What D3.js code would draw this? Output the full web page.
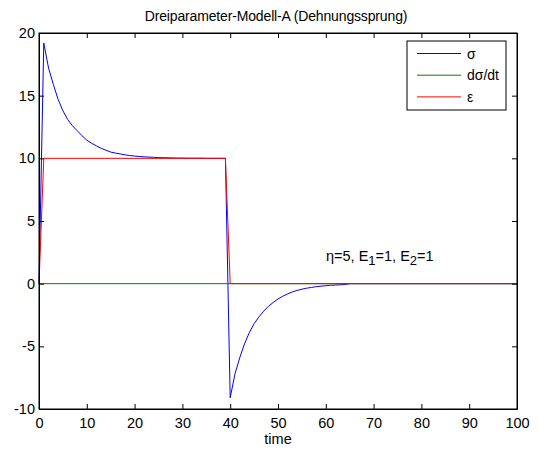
<!DOCTYPE html>
<html>
<head>
<meta charset="utf-8">
<script src="https://cdn.jsdelivr.net/npm/d3@7"></script>
<style>
  body { margin: 0; background: #fff; }
  svg { font-family: "Liberation Sans", Arial, sans-serif; }
</style>
</head>
<body>
<div id="chart"></div>
<script>
const width = 539;
const height = 450;
const margin = {top: 33, right: 22, bottom: 41, left: 39};

// sigma, one point per time unit (0..65), then flat
const sigmaTime = [0,1,2,3,4,5,6,7,8,9,10,11,12,13,14,15,16,17,18,19,20,21,22,23,24,25,26,27,28,29,30,
  31,32,33,34,35,36,37,38,39,40,41,42,43,44,45,46,47,48,49,50,51,52,53,54,55,56,57,58,59,60,
  61,62,63,64,65,100];
const sigmaValues = [0,19.2,17.2,15.9,14.7,13.8,13.1,12.6,12.2,11.8,11.45,11.2,11.0,10.8,10.65,10.5,
  10.42,10.35,10.28,10.22,10.18,10.15,10.12,10.1,10.08,10.06,10.05,10.04,10.03,10.02,10.02,
  10.01,10.01,10.01,10.01,10.0,10.0,10.0,10.0,10.0,-9.1,-7.2,-5.9,-4.8,-3.9,-3.2,-2.65,-2.2,-1.8,-1.5,-1.22,
  -1.0,-0.82,-0.66,-0.54,-0.44,-0.36,-0.3,-0.24,-0.2,-0.16,-0.13,-0.11,-0.09,-0.07,0,0];

const dsigmaTime = [0,100];
const dsigmaValues = [0,0];

const epsTime = [0,1,39,40,100];
const epsValues = [0,10,10,0,0];

const xTicks = [0,10,20,30,40,50,60,70,80,90,100];
const yTicks = [-10,-5,0,5,10,15,20];

const legendLabels = ["σ","dσ/dt","ε"];
const colors = ["#0000ff","#008000","#ff0000"];

const svg = d3.select("#chart").append("svg")
    .attr("width", width)
    .attr("height", height);

const x = d3.scaleLinear().domain([0,100]).range([margin.left, width - margin.right]);
const y = d3.scaleLinear().domain([-10,20]).range([height - margin.bottom, margin.top]);

const series = [
  {t: sigmaTime, v: sigmaValues},
  {t: dsigmaTime, v: dsigmaValues},
  {t: epsTime, v: epsValues}
];

const line = d3.line().x(d => x(d[0])).y(d => y(d[1]));

svg.append("g")
  .selectAll("path")
  .data(series)
  .join("path")
  .attr("fill", "none")
  .attr("stroke", (d,i) => colors[i])
  .attr("stroke-width", 1)
  .attr("d", d => line(d.t.map((t,i) => [t, d.v[i]])));

// axes with inward ticks, box style
const tickLen = 5;
svg.append("g")
  .attr("transform", `translate(0,${height - margin.bottom})`)
  .call(d3.axisBottom(x).tickValues(xTicks).tickSizeInner(-tickLen).tickSizeOuter(0).tickPadding(9))
  .call(g => g.selectAll("text").attr("font-size", 14.5).attr("fill", "#000"));
svg.append("g")
  .attr("transform", `translate(0,${margin.top})`)
  .call(d3.axisTop(x).tickValues(xTicks).tickSizeInner(-tickLen).tickSizeOuter(0).tickFormat(""));
svg.append("g")
  .attr("transform", `translate(${margin.left},0)`)
  .call(d3.axisLeft(y).tickValues(yTicks).tickSizeInner(-tickLen).tickSizeOuter(0).tickPadding(4).tickFormat(d => String(d)))
  .call(g => g.selectAll("text").attr("font-size", 14.5).attr("fill", "#000"));
svg.append("g")
  .attr("transform", `translate(${width - margin.right},0)`)
  .call(d3.axisRight(y).tickValues(yTicks).tickSizeInner(-tickLen).tickSizeOuter(0).tickFormat(""));

svg.selectAll(".domain").attr("stroke", "#000");
svg.selectAll(".tick line").attr("stroke", "#000");

svg.append("rect")
  .attr("x", margin.left)
  .attr("y", margin.top)
  .attr("width", width - margin.left - margin.right)
  .attr("height", height - margin.top - margin.bottom)
  .attr("fill", "none")
  .attr("stroke", "#000");

// title and axis label
svg.append("text")
  .attr("x", 276)
  .attr("y", 21)
  .attr("text-anchor", "middle")
  .attr("font-size", 14)
  .attr("letter-spacing", -0.15)
  .text("Dreiparameter-Modell-A (Dehnungssprung)");

svg.append("text")
  .attr("x", (margin.left + width - margin.right) / 2)
  .attr("y", 444)
  .attr("text-anchor", "middle")
  .attr("font-size", 14.5)
  .text("time");

// annotation
const note = svg.append("text")
  .attr("x", 326)
  .attr("y", 261)
  .attr("font-size", 14.5);
note.append("tspan").text("η=5, E");
note.append("tspan").attr("dy", 4).attr("font-size", 13).text("1");
note.append("tspan").attr("dy", -4).text("=1, E");
note.append("tspan").attr("dy", 4).attr("font-size", 13).text("2");
note.append("tspan").attr("dy", -4).text("=1");

// legend
const legend = svg.append("g").attr("transform", "translate(407,41)");
legend.append("rect")
  .attr("width", 99)
  .attr("height", 69)
  .attr("fill", "#fff")
  .attr("stroke", "#000");
const item = legend.selectAll("g.item")
  .data(legendLabels)
  .join("g")
  .attr("class", "item")
  .attr("transform", (d,i) => `translate(0,${12.5 + i * 21.7})`);
item.append("line")
  .attr("x1", 10).attr("x2", 54)
  .attr("stroke", (d,i) => colors[i]);
item.append("text")
  .attr("x", 60)
  .attr("y", 5)
  .attr("font-size", 14)
  .text(d => d);
</script>
</body>
</html>
